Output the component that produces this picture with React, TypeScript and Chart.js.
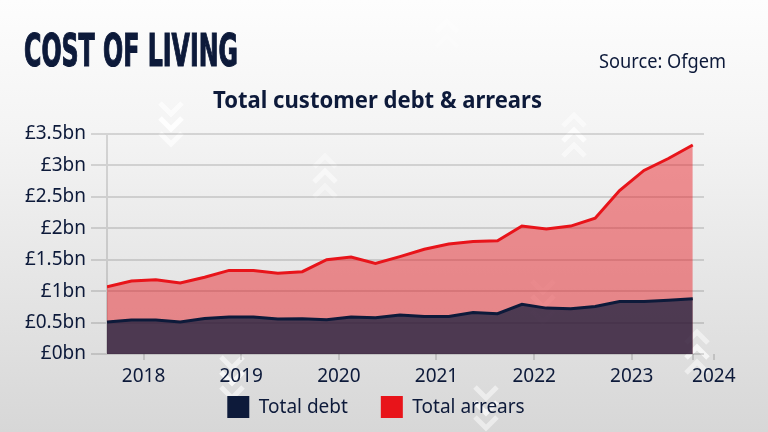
import React, { useEffect, useRef } from "react";
import { Chart, registerables } from "chart.js";

Chart.register(...registerables);

// ---- data ----
const QUARTERS = [
  2017.625, 2017.875, 2018.125, 2018.375, 2018.625, 2018.875, 2019.125, 2019.375,
  2019.625, 2019.875, 2020.125, 2020.375, 2020.625, 2020.875, 2021.125, 2021.375,
  2021.625, 2021.875, 2022.125, 2022.375, 2022.625, 2022.875, 2023.125, 2023.375,
  2023.625,
];
const TOTAL_DEBT = [
  0.51, 0.54, 0.54, 0.51, 0.565, 0.587, 0.587, 0.555, 0.56, 0.544, 0.587, 0.576,
  0.62, 0.597, 0.597, 0.66, 0.64, 0.79, 0.73, 0.72, 0.755, 0.835, 0.835, 0.857, 0.88,
];
const TOTAL_ARREARS = [
  1.07, 1.16, 1.18, 1.13, 1.22, 1.33, 1.33, 1.285, 1.31, 1.5, 1.544, 1.44, 1.55,
  1.666, 1.75, 1.79, 1.8, 2.035, 1.99, 2.035, 2.16, 2.6, 2.92, 3.11, 3.325,
];
const YEAR_LABELS = [2018, 2019, 2020, 2021, 2022, 2023, 2024];
const Y_TICKS = [0, 0.5, 1, 1.5, 2, 2.5, 3, 3.5];
const SERIES_NAMES = ["Total debt", "Total arrears"];

const TITLE = "COST OF LIVING";
const SUBTITLE = "Total customer debt & arrears";
const SOURCE = "Source: Ofgem";

// ---- style ----
const NAVY = "#0d1a3a";
const RED = "#e8141a";
const SERIES_COLORS = [NAVY, RED];
const GRID = "rgba(0,0,0,0.13)";
const FONT = '"Noto Sans", "Open Sans", sans-serif';
const X_MIN = 2017.625;
const X_MAX = 2023.74;
const LAST_LABEL_POS = 2023.84; // where the "2024" label sits, just past the axis end

const CHEVRONS: [number, number, number, number][] = [
  // cx, cy(first), direction (1 = down, -1 = up), alpha
  [171, 108, 1, 0.9],
  [325, 162, -1, 0.5],
  [574, 121, -1, 0.7],
  [543, 286, 1, 0.3],
  [232, 362, 1, 0.8],
  [486, 392, 1, 0.7],
  [697, 338, -1, 0.7],
  [447, 12, -1, 0.25],
];

function drawChevrons(ctx: CanvasRenderingContext2D) {
  ctx.save();
  ctx.lineWidth = 5;
  ctx.lineJoin = "miter";
  ctx.lineCap = "butt";
  for (const [cx, cy, dir, a] of CHEVRONS) {
    for (let k = 0; k < 3; k++) {
      const y = cy + k * 15;
      ctx.strokeStyle = `rgba(255,255,255,${a * (k === 1 ? 1 : 0.7)})`;
      ctx.beginPath();
      ctx.moveTo(cx - 11, y - 5 * dir);
      ctx.lineTo(cx, y + 6 * dir);
      ctx.lineTo(cx + 11, y - 5 * dir);
      ctx.stroke();
    }
  }
  ctx.restore();
}

function fitText(
  ctx: CanvasRenderingContext2D,
  text: string,
  font: string,
  x: number,
  baseline: number,
  width: number,
  stroke = 0
) {
  ctx.save();
  ctx.font = font;
  ctx.fillStyle = NAVY;
  ctx.strokeStyle = NAVY;
  ctx.textBaseline = "alphabetic";
  ctx.textAlign = "left";
  const w = ctx.measureText(text).width;
  ctx.translate(x, baseline);
  ctx.scale(width / w, 1);
  ctx.fillText(text, 0, 0);
  if (stroke > 0) {
    ctx.lineWidth = stroke;
    ctx.lineJoin = "miter";
    ctx.strokeText(text, 0, 0);
  }
  ctx.restore();
}

function drawLegend(ctx: CanvasRenderingContext2D) {
  const box = 22;
  const fontSize = 19;
  const gap = fontSize / 2;
  const itemGap = 33;
  const centerX = 376;
  const top = 396;
  ctx.save();
  ctx.font = `${fontSize}px ${FONT}`;
  const widths = SERIES_NAMES.map((t) => box + gap + ctx.measureText(t).width);
  const total = widths.reduce((a, b) => a + b, 0) + itemGap * (widths.length - 1);
  let x = centerX - total / 2;
  ctx.textBaseline = "middle";
  ctx.textAlign = "left";
  SERIES_NAMES.forEach((name, i) => {
    ctx.fillStyle = SERIES_COLORS[i];
    ctx.fillRect(x, top, box, box);
    ctx.fillStyle = NAVY;
    ctx.fillText(name, x + box + gap, top + box / 2 + 1);
    x += widths[i] + itemGap;
  });
  ctx.restore();
}

const decorPlugin = {
  id: "decor",
  beforeDraw(chart: any) {
    const { ctx, width, height } = chart;
    ctx.save();
    const g = ctx.createLinearGradient(0, 0, 0, height);
    g.addColorStop(0, "#fdfdfd");
    g.addColorStop(0.3, "#f4f4f4");
    g.addColorStop(1, "#d7d7d7");
    ctx.fillStyle = g;
    ctx.fillRect(0, 0, width, height);
    ctx.restore();
    drawChevrons(ctx);
  },
  afterDraw(chart: any) {
    const { ctx } = chart;
    fitText(ctx, TITLE, 'bold 44px "Liberation Sans Narrow", "DejaVu Sans Condensed", sans-serif', 24, 66, 214, 1.2);
    fitText(ctx, SUBTITLE, `bold 23px ${FONT}`, 213, 108, 329);
    fitText(ctx, SOURCE, `20px ${FONT}`, 599, 68, 127);
    drawLegend(ctx);
  },
};

export default function App() {
  const canvasRef = useRef<HTMLCanvasElement | null>(null);

  useEffect(() => {
    if (!canvasRef.current) return;
    const chart = new Chart(canvasRef.current, {
      type: "line",
      data: {
        datasets: [
          {
            label: SERIES_NAMES[0],
            data: QUARTERS.map((x, i) => ({ x, y: TOTAL_DEBT[i] })),
            borderColor: NAVY,
            backgroundColor: "rgba(13,26,58,0.7)",
            borderWidth: 3,
            fill: "origin",
            pointRadius: 0,
            tension: 0,
          },
          {
            label: SERIES_NAMES[1],
            data: QUARTERS.map((x, i) => ({ x, y: TOTAL_ARREARS[i] })),
            borderColor: RED,
            backgroundColor: "rgba(232,20,26,0.45)",
            borderWidth: 3,
            fill: "origin",
            pointRadius: 0,
            tension: 0,
          },
        ],
      },
      options: {
        animation: false,
        responsive: false,
        devicePixelRatio: 1,
        layout: { padding: { top: 134, right: 64, bottom: 0, left: 0 } },
        plugins: {
          tooltip: { enabled: false },
          legend: { display: false },
        },
        scales: {
          x: {
            type: "linear",
            min: X_MIN,
            max: X_MAX,
            afterBuildTicks: (scale: any) => {
              const ticks = YEAR_LABELS.slice(0, -1).map((v) => ({ value: v }));
              ticks.push({ value: QUARTERS[QUARTERS.length - 1] });
              ticks.push({ value: LAST_LABEL_POS });
              scale.ticks = ticks;
            },
            afterFit: (scale: any) => {
              scale.height = 78;
            },
            ticks: {
              autoSkip: false,
              maxRotation: 0,
              padding: 5,
              color: NAVY,
              font: { family: FONT, size: 19 },
              callback: (value: any) => {
                if (value === LAST_LABEL_POS) return String(YEAR_LABELS[YEAR_LABELS.length - 1]);
                if (YEAR_LABELS.includes(value)) return String(value);
                return "";
              },
            },
            grid: {
              drawOnChartArea: false,
              drawTicks: true,
              tickLength: 6,
              color: GRID,
              lineWidth: 2,
            },
            border: { display: false },
          },
          y: {
            min: 0,
            max: 3.5,
            afterBuildTicks: (scale: any) => {
              scale.ticks = Y_TICKS.map((v) => ({ value: v }));
            },
            afterFit: (scale: any) => {
              scale.width = 107;
            },
            ticks: {
              padding: 5,
              color: NAVY,
              font: { family: FONT, size: 19 },
              callback: (value: any) => `£${value}bn`,
            },
            grid: {
              color: GRID,
              lineWidth: 2,
              tickLength: 16,
            },
            border: { display: true, color: GRID, width: 2 },
          },
        },
      },
      plugins: [decorPlugin],
    });
    return () => chart.destroy();
  }, []);

  return (
    <div style={{ position: "absolute", left: 0, top: 0, width: 768, height: 432 }}>
      <canvas ref={canvasRef} width={768} height={432} style={{ display: "block" }} />
    </div>
  );
}
